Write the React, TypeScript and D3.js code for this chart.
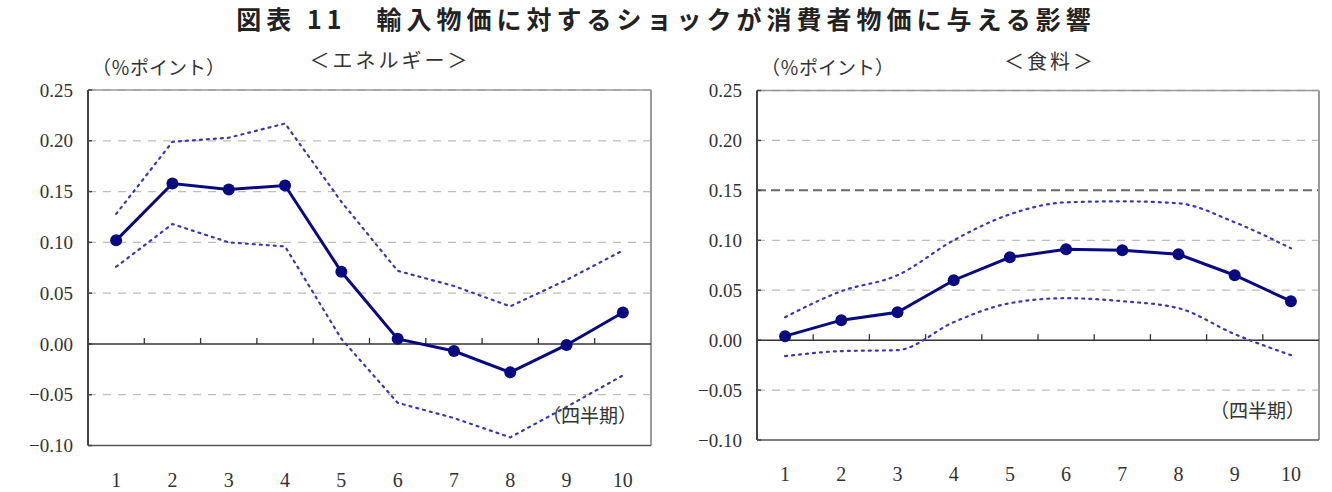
import React from 'react'
import * as d3 from 'd3'

// quarters after the shock
const quarters = ['1', '2', '3', '4', '5', '6', '7', '8', '9', '10']
const yTicks = [-0.1, -0.05, 0, 0.05, 0.1, 0.15, 0.2, 0.25]

// エネルギー
const energyMid = [0.102, 0.158, 0.152, 0.156, 0.071, 0.005, -0.007, -0.028, -0.001, 0.031]
const energyUpper = [0.128, 0.199, 0.203, 0.217, 0.14, 0.072, 0.057, 0.037, 0.063, 0.092]
const energyLower = [0.076, 0.118, 0.1, 0.096, 0.005, -0.058, -0.073, -0.092, -0.062, -0.031]

// 食料
const foodMid = [0.004, 0.02, 0.028, 0.06, 0.083, 0.091, 0.09, 0.086, 0.065, 0.039]
const foodUpper = [0.023, 0.049, 0.065, 0.1, 0.126, 0.138, 0.139, 0.137, 0.118, 0.092]
const foodLower = [-0.016, -0.011, -0.01, 0.018, 0.037, 0.042, 0.039, 0.032, 0.006, -0.015]

const NAVY = '#0a0a80'
const DOT = '#3a3ab0'
const NUM_FONT = 'Liberation Serif, serif'
const JP_FONT = 'Noto Sans CJK JP, sans-serif'

const fmt = (v) => {
    const s = Math.abs(v).toFixed(2)
    return v < 0 ? `\u2212${s}` : s
}

function Panel({ left, right, top, bottom, mid, upper, lower, title, titleX, smooth, darkLine }) {
    const x = d3.scaleBand().domain(quarters).range([left, right])
    const y = d3.scaleLinear().domain([-0.1, 0.25]).range([bottom, top])
    const cx = (d, i) => x(quarters[i]) + x.bandwidth() / 2

    const solid = d3.line().x((d, i) => cx(d, i)).y(d => y(d))
    const band = d3.line().x((d, i) => cx(d, i)).y(d => y(d))
        .curve(smooth ? d3.curveMonotoneX : d3.curveLinear)

    const boundaries = quarters.slice(1).map(q => x(q))

    return (
        <g>
            {/* grid */}
            {yTicks.filter(t => t !== 0 && t !== -0.1).map(t => (
                <line key={t} x1={left} x2={right} y1={y(t)} y2={y(t)}
                    stroke={darkLine === t ? '#6a6a6a' : '#bdbdbd'}
                    strokeWidth={darkLine === t ? 2 : 1.3}
                    strokeDasharray={darkLine === t ? '9,5' : '8,7'} />
            ))}
            {/* frame */}
            <line x1={right} x2={right} y1={top} y2={bottom} stroke="#9a9a9a" strokeWidth={2} />
            <line x1={left} x2={right} y1={top} y2={top} stroke="#9a9a9a" strokeWidth={1.5} />
            <line x1={left} x2={right} y1={bottom} y2={bottom} stroke="#555" strokeWidth={1.5} />
            <line x1={left} x2={left} y1={top} y2={bottom} stroke="#444" strokeWidth={2} />
            {yTicks.map(t => (
                <line key={t} x1={left} x2={left + 4} y1={y(t)} y2={y(t)} stroke="#444" strokeWidth={1.5} />
            ))}
            {/* zero line with tick marks */}
            <line x1={left} x2={right} y1={y(0)} y2={y(0)} stroke="#333" strokeWidth={1.5} />
            {boundaries.map(b => (
                <line key={b} x1={b} x2={b} y1={y(0)} y2={y(0) - 6} stroke="#333" strokeWidth={1.3} />
            ))}
            {/* y labels */}
            {yTicks.map(t => (
                <text key={t} x={left - 15} y={y(t)} dy="0.35em" textAnchor="end"
                    style={{ fontFamily: NUM_FONT, fontSize: 19 }} fill="#333">{fmt(t)}</text>
            ))}
            {/* x labels */}
            {quarters.map(q => (
                <text key={q} x={x(q) + x.bandwidth() / 2} y={bottom + 34} dy="0.35em" textAnchor="middle"
                    style={{ fontFamily: NUM_FONT, fontSize: 20 }} fill="#333">{q}</text>
            ))}
            {/* confidence bands */}
            <path d={band(upper)} fill="none" stroke={DOT} strokeWidth={2.2} strokeDasharray="2,5" strokeLinecap="round" />
            <path d={band(lower)} fill="none" stroke={DOT} strokeWidth={2.2} strokeDasharray="2,5" strokeLinecap="round" />
            {/* response */}
            <path d={solid(mid)} fill="none" stroke={NAVY} strokeWidth={3} />
            {mid.map((d, i) => (
                <circle key={i} cx={cx(d, i)} cy={y(d)} r={6} fill={NAVY} />
            ))}
            {/* labels */}
            <text x={left + 4} y={top - 22} dy="0.35em" style={{ fontFamily: JP_FONT, fontSize: 19 }} fill="#333">（％ポイント）</text>
            <text x={titleX} y={top - 29} dy="0.35em" textAnchor="middle" style={{ fontFamily: JP_FONT, fontSize: 20, letterSpacing: 3 }}
                fill="#333">{title}</text>
            <text x={right - 14} y={bottom - 29} dy="0.35em" textAnchor="end" style={{ fontFamily: JP_FONT, fontSize: 19 }} fill="#333">（四半期）</text>
        </g>
    )
}

export default function App() {
    return (
        <svg width={1332} height={492} style={{ position: 'absolute', left: 0, top: 0, background: '#fff' }}>
            <text x={666} y={20} dy="0.35em" textAnchor="middle"
                style={{ fontFamily: JP_FONT, fontWeight: 700, fontSize: 25, letterSpacing: 5 }} fill="#222">図表 11　輸入物価に対するショックが消費者物価に与える影響</text>
            <Panel left={88} right={651} top={90} bottom={445.5}
                mid={energyMid} upper={energyUpper} lower={energyLower}
                title="＜エネルギー＞" titleX={390} smooth={false} darkLine={null} />
            <Panel left={757} right={1319} top={90.5} bottom={440}
                mid={foodMid} upper={foodUpper} lower={foodLower}
                title="＜食料＞" titleX={1050} smooth={true} darkLine={0.15} />
        </svg>
    )
}
